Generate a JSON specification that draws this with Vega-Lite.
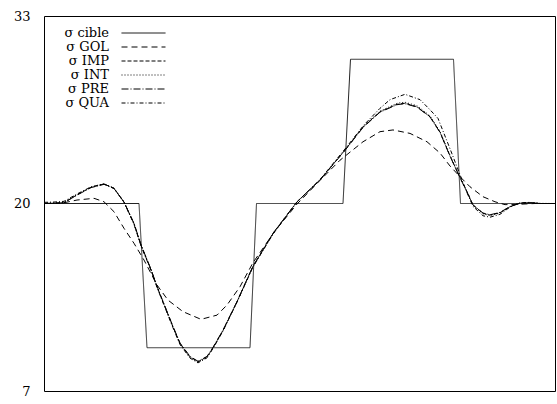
{
  "$schema": "https://vega.github.io/schema/vega-lite/v6.json",
  "width": 511,
  "height": 375,
  "autosize": {"type": "none"},
  "padding": {"left": 44, "top": 16, "right": 2, "bottom": 13},
  "background": "white",
  "config": {
    "view": {"stroke": "black", "strokeWidth": 1},
    "font": "DejaVu Serif"
  },
  "datasets": {
    "cible": [
      {"x": 0, "y": 20}, {"x": 95, "y": 20}, {"x": 103, "y": 10}, {"x": 206, "y": 10},
      {"x": 212.5, "y": 20}, {"x": 299, "y": 20}, {"x": 306.5, "y": 30}, {"x": 409.5, "y": 30},
      {"x": 416.5, "y": 20}, {"x": 511, "y": 20}
    ],
    "GOL": [
      {"x": 0, "y": 20.0}, {"x": 20, "y": 20.05}, {"x": 33, "y": 20.24}, {"x": 50, "y": 20.36},
      {"x": 60, "y": 20.12}, {"x": 70, "y": 19.43}, {"x": 80, "y": 18.28}, {"x": 90, "y": 17.24},
      {"x": 100, "y": 16.08}, {"x": 113, "y": 14.35}, {"x": 124, "y": 13.3}, {"x": 139, "y": 12.5},
      {"x": 157, "y": 11.97}, {"x": 173, "y": 12.26}, {"x": 183, "y": 12.96}, {"x": 196, "y": 14.23},
      {"x": 209, "y": 15.9}, {"x": 231, "y": 18.1}, {"x": 253, "y": 19.96}, {"x": 276, "y": 21.6},
      {"x": 296, "y": 23.0}, {"x": 319, "y": 24.28}, {"x": 336, "y": 24.98}, {"x": 349, "y": 25.1},
      {"x": 366, "y": 24.86}, {"x": 383, "y": 24.28}, {"x": 396, "y": 23.5}, {"x": 406, "y": 22.6},
      {"x": 416, "y": 21.86}, {"x": 426, "y": 21.16}, {"x": 439, "y": 20.47}, {"x": 451, "y": 20.12},
      {"x": 461, "y": 19.92}, {"x": 476, "y": 19.95}, {"x": 491, "y": 20.0}, {"x": 511, "y": 20.0}
    ],
    "IMP": [
      {"x": 0, "y": 20.0}, {"x": 10, "y": 20.02}, {"x": 20, "y": 20.05}, {"x": 33, "y": 20.6},
      {"x": 47, "y": 21.12}, {"x": 60, "y": 21.35}, {"x": 70, "y": 21.05}, {"x": 80, "y": 20.1},
      {"x": 90, "y": 18.6}, {"x": 97, "y": 17.1}, {"x": 107, "y": 15.4}, {"x": 113, "y": 14.23},
      {"x": 118, "y": 13.35}, {"x": 129, "y": 11.45}, {"x": 136, "y": 10.3}, {"x": 146, "y": 9.37},
      {"x": 154, "y": 9.03}, {"x": 163, "y": 9.37}, {"x": 169, "y": 10.0}, {"x": 179, "y": 11.2},
      {"x": 193, "y": 13.19}, {"x": 209, "y": 15.65}, {"x": 229, "y": 17.93}, {"x": 253, "y": 20.12},
      {"x": 276, "y": 21.63}, {"x": 301, "y": 23.7}, {"x": 319, "y": 25.3}, {"x": 336, "y": 26.36},
      {"x": 353, "y": 26.88}, {"x": 361, "y": 26.95}, {"x": 373, "y": 26.71}, {"x": 386, "y": 26.02},
      {"x": 396, "y": 24.95}, {"x": 406, "y": 23.3}, {"x": 416, "y": 21.8}, {"x": 423, "y": 20.82},
      {"x": 429, "y": 19.9}, {"x": 439, "y": 19.32}, {"x": 446, "y": 19.2}, {"x": 456, "y": 19.36},
      {"x": 466, "y": 19.78}, {"x": 476, "y": 20.02}, {"x": 486, "y": 20.05}, {"x": 496, "y": 20.0},
      {"x": 511, "y": 20.0}
    ],
    "INT": [
      {"x": 0, "y": 20.02}, {"x": 10, "y": 20.03}, {"x": 20, "y": 20.08}, {"x": 33, "y": 20.62},
      {"x": 47, "y": 21.15}, {"x": 60, "y": 21.37}, {"x": 70, "y": 21.07}, {"x": 80, "y": 20.12},
      {"x": 90, "y": 18.62}, {"x": 97, "y": 17.12}, {"x": 107, "y": 15.42}, {"x": 113, "y": 14.25},
      {"x": 118, "y": 13.37}, {"x": 129, "y": 11.43}, {"x": 136, "y": 10.27}, {"x": 146, "y": 9.33},
      {"x": 154, "y": 9.0}, {"x": 163, "y": 9.33}, {"x": 169, "y": 9.97}, {"x": 179, "y": 11.18},
      {"x": 193, "y": 13.17}, {"x": 209, "y": 15.62}, {"x": 229, "y": 17.9}, {"x": 253, "y": 20.1},
      {"x": 276, "y": 21.65}, {"x": 301, "y": 23.72}, {"x": 319, "y": 25.33}, {"x": 336, "y": 26.4},
      {"x": 353, "y": 26.95}, {"x": 361, "y": 27.02}, {"x": 373, "y": 26.78}, {"x": 386, "y": 26.08},
      {"x": 396, "y": 25.0}, {"x": 406, "y": 23.35}, {"x": 416, "y": 21.82}, {"x": 423, "y": 20.82},
      {"x": 429, "y": 19.88}, {"x": 439, "y": 19.28}, {"x": 446, "y": 19.16}, {"x": 456, "y": 19.33},
      {"x": 466, "y": 19.77}, {"x": 476, "y": 20.04}, {"x": 486, "y": 20.07}, {"x": 496, "y": 20.01},
      {"x": 511, "y": 20.0}
    ],
    "PRE": [
      {"x": 0, "y": 20.0}, {"x": 10, "y": 20.01}, {"x": 20, "y": 20.06}, {"x": 33, "y": 20.58},
      {"x": 47, "y": 21.1}, {"x": 60, "y": 21.33}, {"x": 70, "y": 21.04}, {"x": 80, "y": 20.1},
      {"x": 90, "y": 18.62}, {"x": 97, "y": 17.14}, {"x": 107, "y": 15.44}, {"x": 113, "y": 14.27},
      {"x": 118, "y": 13.38}, {"x": 129, "y": 11.48}, {"x": 136, "y": 10.33}, {"x": 146, "y": 9.4},
      {"x": 154, "y": 9.06}, {"x": 163, "y": 9.4}, {"x": 169, "y": 10.03}, {"x": 179, "y": 11.22},
      {"x": 193, "y": 13.2}, {"x": 209, "y": 15.66}, {"x": 229, "y": 17.94}, {"x": 253, "y": 20.12},
      {"x": 276, "y": 21.62}, {"x": 301, "y": 23.68}, {"x": 319, "y": 25.27}, {"x": 336, "y": 26.33},
      {"x": 353, "y": 26.85}, {"x": 361, "y": 26.92}, {"x": 373, "y": 26.68}, {"x": 386, "y": 26.0},
      {"x": 396, "y": 24.93}, {"x": 406, "y": 23.28}, {"x": 416, "y": 21.78}, {"x": 423, "y": 20.8},
      {"x": 429, "y": 19.9}, {"x": 439, "y": 19.34}, {"x": 446, "y": 19.22}, {"x": 456, "y": 19.38},
      {"x": 466, "y": 19.8}, {"x": 476, "y": 20.02}, {"x": 486, "y": 20.04}, {"x": 496, "y": 20.0},
      {"x": 511, "y": 20.0}
    ],
    "QUA": [
      {"x": 0, "y": 20.08}, {"x": 10, "y": 20.1}, {"x": 20, "y": 20.15}, {"x": 33, "y": 20.66},
      {"x": 47, "y": 21.15}, {"x": 60, "y": 21.36}, {"x": 70, "y": 21.05}, {"x": 80, "y": 20.08},
      {"x": 90, "y": 18.56}, {"x": 97, "y": 17.06}, {"x": 107, "y": 15.36}, {"x": 113, "y": 14.19},
      {"x": 118, "y": 13.3}, {"x": 129, "y": 11.38}, {"x": 136, "y": 10.22}, {"x": 146, "y": 9.28},
      {"x": 154, "y": 8.95}, {"x": 163, "y": 9.3}, {"x": 169, "y": 9.95}, {"x": 179, "y": 11.16},
      {"x": 193, "y": 13.16}, {"x": 209, "y": 15.6}, {"x": 229, "y": 17.88}, {"x": 253, "y": 20.1},
      {"x": 276, "y": 21.66}, {"x": 301, "y": 23.78}, {"x": 320, "y": 25.45}, {"x": 336, "y": 26.6},
      {"x": 346, "y": 27.2}, {"x": 361, "y": 27.57}, {"x": 376, "y": 27.2}, {"x": 386, "y": 26.5},
      {"x": 394, "y": 25.9}, {"x": 406, "y": 23.8}, {"x": 416, "y": 22.0}, {"x": 423, "y": 20.75},
      {"x": 429, "y": 19.8}, {"x": 439, "y": 19.15}, {"x": 446, "y": 19.05}, {"x": 456, "y": 19.25},
      {"x": 466, "y": 19.75}, {"x": 476, "y": 20.05}, {"x": 486, "y": 20.08}, {"x": 496, "y": 20.0},
      {"x": 511, "y": 20.0}
    ]
  },
  "layer": [
    {"data": {"name": "cible"}, "transform": [{"calculate": "'cible'", "as": "s"}], "mark": {"type": "line", "color": "#222", "strokeWidth": 1, "clip": true}, "encoding": {}},
    {"data": {"name": "GOL"}, "transform": [{"calculate": "'GOL'", "as": "s"}], "mark": {"type": "line", "color": "black", "strokeWidth": 1, "clip": true}, "encoding": {}},
    {"data": {"name": "IMP"}, "transform": [{"calculate": "'IMP'", "as": "s"}], "mark": {"type": "line", "color": "black", "strokeWidth": 1, "clip": true}, "encoding": {}},
    {"data": {"name": "INT"}, "transform": [{"calculate": "'INT'", "as": "s"}], "mark": {"type": "line", "color": "black", "strokeWidth": 1, "clip": true}, "encoding": {}},
    {"data": {"name": "PRE"}, "transform": [{"calculate": "'PRE'", "as": "s"}], "mark": {"type": "line", "color": "black", "strokeWidth": 1, "clip": true}, "encoding": {}},
    {"data": {"name": "QUA"}, "transform": [{"calculate": "'QUA'", "as": "s"}], "mark": {"type": "line", "color": "black", "strokeWidth": 1, "clip": true}, "encoding": {}}
  ],
  "encoding": {
    "x": {"field": "x", "type": "quantitative", "scale": {"domain": [0, 511], "nice": false, "zero": false}, "axis": null},
    "y": {"field": "y", "type": "quantitative", "scale": {"domain": [7, 33], "nice": false, "zero": false},
      "axis": {"values": [7, 20, 33], "domain": false, "ticks": false, "grid": false, "title": null,
        "labelFont": "DejaVu Serif", "labelFontSize": 13, "labelColor": "black", "labelPadding": 14}},
    "strokeDash": {"field": "s", "type": "nominal", "title": null,
      "scale": {"domain": ["cible", "GOL", "IMP", "INT", "PRE", "QUA"],
        "range": [[1, 0], [6, 4], [4, 2], [1, 2], [7, 2, 1, 2], [4, 2, 1, 2]]},
      "legend": {"orient": "none", "legendX": 77, "legendY": 10, "padding": 0,
        "symbolSize": 1936, "symbolStrokeWidth": 1, "symbolStrokeColor": "black", "symbolType": "stroke",
        "labelAlign": "right", "labelOffset": -57, "labelFont": "DejaVu Serif", "labelFontSize": 13,
        "labelColor": "black", "rowPadding": 0,
        "labelExpr": "'σ ' + datum.label",
        "encode": {
          "symbols": {"update": {"y": {"value": 7}}},
          "labels": {"update": {"y": {"value": 7}}}
        }}}
  }
}
